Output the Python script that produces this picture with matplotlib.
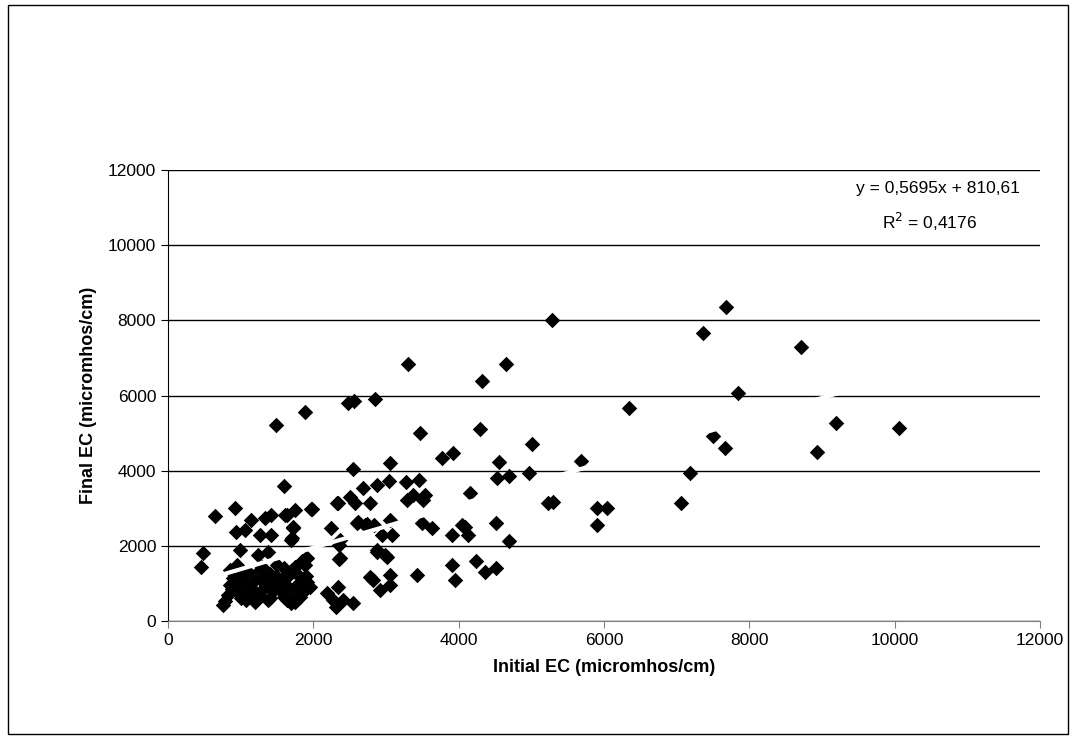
import numpy as np
import matplotlib
matplotlib.use("Agg")
import matplotlib.pyplot as plt
from matplotlib.patches import Rectangle

plt.rcParams['font.family'] = ['Liberation Sans', 'DejaVu Sans']

# initial / final EC readings (micromhos/cm)
initial_ec = [
    7680, 7360, 8710, 5280, 3300, 4650, 4320, 7840, 6350, 9200, 10060, 8930,
    7660, 7500, 7180, 7060, 5900, 6040, 5900, 5680, 5010, 4970, 5230, 5300,
    4290, 4560, 4530, 4690, 4690, 4510, 4510, 4360, 4240, 3950, 3910, 4050,
    4090, 4130, 4160, 3770, 3920, 3910, 3470, 3450, 3280, 3510, 3370, 3540,
    3430, 3490, 3630, 2850, 2560, 2480, 1880, 1490, 3060, 2550, 2880, 3040,
    3290, 2690, 2500, 2330, 3060, 2740, 2600, 2780, 2880, 2990, 2950, 3080,
    2880, 3010, 3060, 2820, 2920, 3060, 2780, 2340, 2240, 2350, 2350, 1640,
    1750, 1980, 1720, 1710, 1910, 2570, 2610, 2710, 2830, 2190, 2340, 2410,
    2550, 2270, 1640, 1780, 1820, 1580, 1710, 2370, 2370, 2310, 650, 920,
    480, 450, 1140, 1340, 1420, 1610, 1970, 1060, 940, 1270, 1420, 1720,
    1690, 990, 1240, 1380, 1900, 1590, 780, 820, 850, 900, 950, 1000,
    1050, 1100, 1150, 1200, 1250, 1300, 1350, 1400, 1400, 1450, 1500, 1550,
    1600, 1650, 1700, 1750, 1800, 1850, 1900, 1950, 850, 950, 1200, 1600,
    1100, 1500, 1300, 1750, 1850, 1000, 760, 1380, 1690, 1830,
    880, 1020, 1180, 1330, 1480, 1630, 1780, 1920, 1080, 1270, 1560, 1720,
    960, 1420, 1880,
]
final_ec = [
    8360, 7660, 7290, 8010, 6840, 6840, 6390, 6070, 5670, 5270, 5140, 4500,
    4600, 4920, 3950, 3140, 3010, 3010, 2550, 4250, 4710, 3940, 3140, 3170,
    5110, 4230, 3810, 3860, 2130, 2600, 1410, 1300, 1600, 1100, 1500, 2560,
    2500, 2290, 3410, 4340, 4470, 2290, 5000, 3750, 3700, 3220, 3350, 3350,
    1220, 2610, 2480, 5900, 5860, 5800, 5560, 5220, 4200, 4050, 3620, 3730,
    3220, 3540, 3300, 3140, 2690, 2580, 2610, 1170, 1890, 1760, 2290, 2290,
    1840, 1700, 960, 1090, 830, 1220, 3140, 3140, 2480, 2020, 1650, 2820,
    2950, 2980, 2500, 2210, 1680, 3140, 2640, 2560, 2560, 750, 910, 560,
    480, 560, 560, 910, 640, 1010, 1360, 2160, 1680, 380, 2790, 3010,
    1810, 1440, 2690, 2740, 2820, 2820, 2980, 2420, 2370, 2290, 2290, 2480,
    2160, 1890, 1760, 1840, 1680, 3590, 520, 700, 950, 1150, 800, 600,
    1000, 1300, 850, 1100, 700, 1450, 950, 600, 1250, 800, 1500, 1100,
    650, 900, 1300, 500, 1000, 750, 1200, 900, 1350, 1500, 500, 1400,
    750, 1000, 1100, 1450, 1600, 1200, 430, 560, 480, 830,
    850, 1250, 650, 900, 1200, 1150, 1250, 1050, 550, 1350, 800, 650,
    1050, 1050, 1500,
]

slope = 0.5695
intercept = 810.61
eq_text = "y = 0,5695x + 810,61"
r2_text = "R$^2$ = 0,4176"

fig = plt.figure(figsize=(10.76, 7.38), dpi=100)
fig.patches.append(Rectangle((0.007, 0.005), 0.986, 0.988, transform=fig.transFigure,
                             fill=False, edgecolor='black', linewidth=1))
ax = fig.add_axes([0.1561, 0.1585, 0.8104, 0.6111])

ax.scatter(initial_ec, final_ec, marker='D', s=62, color='black', linewidths=0, zorder=3)

xs = np.array([min(initial_ec), max(initial_ec)])
ax.plot(xs, slope * xs + intercept, color='white', linewidth=3, zorder=4)

ax.set_xlim(0, 12000)
ax.set_ylim(0, 12000)
ax.set_xticks(range(0, 12001, 2000))
ax.set_yticks(range(0, 12001, 2000))
ax.yaxis.grid(True, color='black', linewidth=1)
ax.set_axisbelow(True)
for s in ['top', 'right']:
    ax.spines[s].set_visible(False)
ax.spines['left'].set_color('black')
ax.spines['bottom'].set_color('#808080')
ax.tick_params(axis='both', direction='out', length=5, labelsize=12.5, colors='black')
ax.tick_params(axis='x', color='#808080')

ax.set_xlabel("Initial EC (micromhos/cm)", fontsize=13, fontweight='bold', labelpad=8)
ax.set_ylabel("Final EC (micromhos/cm)", fontsize=13, fontweight='bold', labelpad=8)

ax.text(11730, 11520, eq_text, ha='right', va='center', fontsize=12.5)
ax.text(10480, 10620, r2_text, ha='center', va='center', fontsize=12.5)

fig.savefig("out.png", dpi=100)
